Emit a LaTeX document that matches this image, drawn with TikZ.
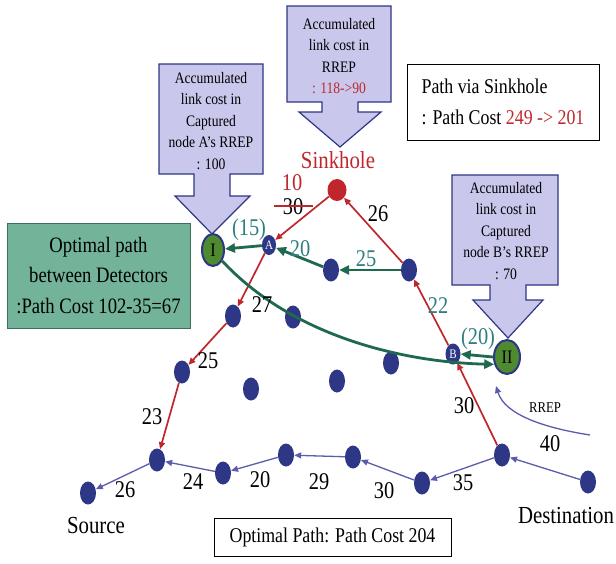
\documentclass[tikz,border=0pt]{standalone}
\usepackage{fontspec}
\setmainfont{Liberation Serif}[FakeStretch=0.85]
\usetikzlibrary{arrows.meta,shapes.geometric}
\definecolor{navy}{HTML}{2E3686}
\definecolor{rd}{HTML}{C0272D}
\definecolor{grn}{HTML}{1F6A4F}
\definecolor{tealc}{HTML}{2E7F80}
\definecolor{slate}{HTML}{5C5CAC}
\definecolor{lav}{HTML}{C9C7EC}
\definecolor{boxg}{HTML}{72B39A}
\definecolor{boxgb}{HTML}{3D6D5C}
\definecolor{nodeg}{HTML}{4E8A30}
\begin{document}
\begin{tikzpicture}[x=1pt,y=-1pt,
  dot/.style={ellipse,fill=navy,minimum width=16pt,minimum height=23pt,inner sep=0pt},
  smalln/.style={ellipse,fill=navy,minimum width=14pt,minimum height=20pt,inner sep=0pt,text=white,font=\fontsize{13}{13}\selectfont},
  detn/.style={ellipse,fill=nodeg,draw=navy,line width=2pt,minimum width=22pt,minimum height=32pt,inner sep=0pt,font=\fontsize{19}{19}\selectfont},
  sinkn/.style={ellipse,fill=rd,minimum width=19pt,minimum height=22pt,inner sep=0pt},
  lbl/.style={font=\fontsize{24}{24}\selectfont,inner sep=0pt},
  tlbl/.style={lbl,text=tealc},
  redarr/.style={draw=rd,line width=1.7pt,-{Triangle[length=7pt,width=6pt]}},
  grnarr/.style={draw=grn,line width=2.8pt,-{Triangle[length=10pt,width=9pt]}},
  bluarr/.style={draw=slate,line width=1.3pt,-{Triangle[length=7pt,width=6pt]}},
  callout/.style={fill=lav,draw=navy,line width=1.2pt},
  ctext/.style={align=center,font=\fontsize{16}{21.5}\selectfont,inner sep=0pt},
  textbox/.style={draw=black,line width=0.8pt,fill=white,inner sep=0pt},
  bigt/.style={font=\fontsize{24.5}{24.5}\selectfont,inner sep=0pt}
]
\useasboundingbox[fill=white] (0,0) rectangle (616,563);

% callouts
\draw[callout] (287,6) -- (391,6) -- (391,102) -- (358,102) -- (358,112) -- (381,112) -- (340,147) -- (299,112) -- (322,112) -- (322,102) -- (287,102) -- cycle;
\node[ctext] (ct) at (339,56) {Accumulated\\link cost in\\RREP\\\textcolor{rd}{: 118->90}};
\draw[callout] (159,64) -- (263,64) -- (263,174) -- (230,174) -- (230,196) -- (250,196) -- (212,234) -- (175,196) -- (194,196) -- (194,174) -- (159,174) -- cycle;
\node[ctext] (cl) at (211,121) {Accumulated\\link cost in\\Captured\\node A's RREP\\: 100};
\draw[callout] (452,175) -- (558,175) -- (558,285) -- (526,285) -- (526,300) -- (543,300) -- (508,338) -- (473,300) -- (490,300) -- (490,285) -- (452,285) -- cycle;
\node[ctext] (cr) at (506,231) {Accumulated\\link cost in\\Captured\\node B's RREP\\: 70};

% text boxes
\node[textbox,align=left,minimum width=192pt,minimum height=76pt,font=\fontsize{21}{31}\selectfont] (pv) at (503,102) {Path via Sinkhole\\: Path Cost \textcolor{rd}{249 -> 201}};
\node[draw=boxgb,line width=1pt,fill=boxg,align=center,minimum width=183pt,minimum height=105pt,inner sep=0pt,font=\fontsize{22}{30.5}\selectfont] (gb) at (98.5,275.5) {Optimal path\\between Detectors\\:Path Cost 102-35=67};
\node[textbox,minimum width=237pt,minimum height=38pt,font=\fontsize{21}{21}\selectfont] (ob) at (332.5,537) {Optimal Path: Path Cost 204};

% nodes
\node[sinkn] (S) at (337,190) {};
\node[bigt,text=rd] (Sl) at (338,160) {Sinkhole};
\node[smalln] (A) at (269,245) {A};
\node[smalln,minimum width=15pt,minimum height=21pt] (B) at (453,354) {B};
\node[detn] (I) at (213,250) {I};
\node[detn,minimum width=26pt,minimum height=34pt] (II) at (507,357) {II};
\node[dot] (n1) at (331,270) {};
\node[dot] (n2) at (409,270) {};
\node[dot] (n3) at (233,316) {};
\node[dot] (n4) at (182,372) {};
\node[dot] (m1) at (293,317) {};
\node[dot] (m2) at (251,389) {};
\node[dot] (m3) at (337,381) {};
\node[dot] (m4) at (391,363) {};
\node[dot] (src) at (88,493) {};
\node[dot] (b1) at (157,460) {};
\node[dot] (b2) at (223,473) {};
\node[dot] (b3) at (286,455) {};
\node[dot] (b4) at (353,457) {};
\node[dot] (b5) at (422,483) {};
\node[dot] (b6) at (502,455) {};
\node[dot] (dst) at (588,482) {};
\node[bigt] (srcl) at (96,525) {Source};
\node[bigt] (dstl) at (566,516) {Destination};

% red path
\draw[redarr] (b6) -- (B);
\draw[redarr] (B) -- (n2);
\draw[redarr] (n2) -- (S);
\draw[redarr] (S) -- (A);
\draw[redarr] (A) -- (n3);
\draw[redarr] (n3) -- (n4);
\draw[redarr] (n4) -- (b1);

% green paths
\draw[grnarr] (n2) -- (n1);
\draw[grnarr] (n1) -- (A);
\draw[grnarr] (A) -- (I);
\draw[grnarr] (II.west) -- (B.east);
\draw[grnarr] (I.-50) .. controls (291,335) and (400,362) .. (II.-150);

% blue path
\draw[bluarr] (dst) -- (b6);
\draw[bluarr] (b6) -- (b5);
\draw[bluarr] (b5) -- (b4);
\draw[bluarr] (b4) -- (b3);
\draw[bluarr] (b3) -- (b2);
\draw[bluarr] (b2) -- (b1);
\draw[bluarr] (b1) -- (src);

% RREP
\coordinate (r1) at (590,435);
\coordinate (r2) at (496,386);
\draw[bluarr] (r1) .. controls (545,428) and (505,415) .. (r2);
\node[font=\fontsize{15}{15}\selectfont,inner sep=0pt] (rl) at (545,408) {RREP};

% labels
\node[lbl,text=rd] (l10) at (292,183) {10};
\node[lbl] (l30a) at (293,207) {30};
\coordinate (s1) at (274,206);
\coordinate (s2) at (313,206);
\draw[draw=rd,line width=1.5pt] (s1) -- (s2);
\node[lbl] (l26) at (378,214) {26};
\node[tlbl] (l15) at (249,230) {(15)};
\node[tlbl] (l20t) at (300,249) {20};
\node[tlbl] (l25t) at (366,259) {25};
\node[tlbl] (l22) at (438,306) {22};
\node[tlbl] (l20p) at (478,339) {(20)};
\node[lbl] (l27) at (262,305) {27};
\node[lbl] (l25) at (208,361) {25};
\node[lbl] (l23) at (152,417) {23};
\node[lbl] (l30b) at (464,406) {30};
\node[lbl] (l40) at (550,444) {40};
\node[lbl] (l26b) at (125,490) {26};
\node[lbl] (l24) at (193,482) {24};
\node[lbl] (l20) at (260,480) {20};
\node[lbl] (l29) at (319,482) {29};
\node[lbl] (l30c) at (384,491) {30};
\node[lbl] (l35) at (463,483) {35};
\end{tikzpicture}
\end{document}
